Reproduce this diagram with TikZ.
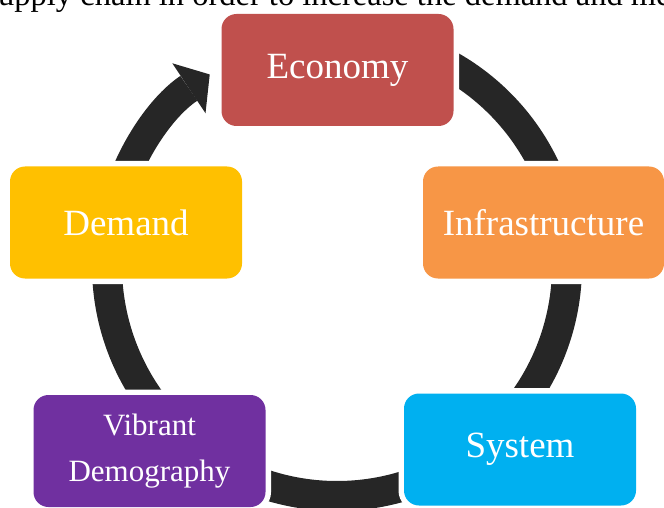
\documentclass[tikz,border=0pt]{standalone}
\usepackage{fontspec}
\setmainfont{Liberation Serif}
\usetikzlibrary{arrows.meta}
\definecolor{ringgray}{RGB}{38,38,38}
\definecolor{econfill}{RGB}{192,80,77}
\definecolor{infrafill}{RGB}{247,150,70}
\definecolor{sysfill}{RGB}{0,176,240}
\definecolor{vibfill}{RGB}{112,48,160}
\definecolor{demfill}{RGB}{255,192,0}
\def\Rr{230}
\tikzset{
  stage/.style={
    fill=#1, rounded corners=15pt,
    preaction={draw=white, line width=11pt},
    minimum width=232pt, minimum height=112pt,
    align=center, text=white, inner sep=0pt,
    font=\fontsize{37}{44}\selectfont,
  },
  stage/.default=ringgray,
  ring/.style={draw=ringgray, line width=30pt},
  ringtip/.style={-{Triangle[width=60pt, length=25pt, line width=0pt]}},
}

\begin{document}
\begin{tikzpicture}[x=1pt,y=-1pt]
  \useasboundingbox (0,0) rectangle (664,508);

  % running text from the page, cut by the top edge
  \node[anchor=base west, inner sep=0pt, font=\fontsize{32.5}{38}\selectfont] (intro) at (-2,6)
    {upply chain in order to increase the demand and me};

  % the cycle ring, one arc per step
  \coordinate (hub) at (337,266);
  \draw[ring] (hub) ++(270:\Rr) arc[start angle=270, end angle=348, radius=\Rr];
  \draw[ring] (hub) ++(348:\Rr) arc[start angle=348, end angle=405, radius=\Rr];
  \draw[ring] (hub) ++(45:\Rr) arc[start angle=45, end angle=135, radius=\Rr];
  \draw[ring] (hub) ++(135:\Rr) arc[start angle=135, end angle=192, radius=\Rr];
  \draw[ring, ringtip] (hub) ++(192:\Rr) arc[start angle=192, end angle=236.4, radius=\Rr];

  % stages
  \node[stage=econfill] (econ) at (337.5,70) {Economy};
  \node[stage=infrafill, minimum width=241pt] (infra) at (543.5,222.5) {Infrastructure};
  \node[stage=sysfill] (sys) at (520,449.5) {System};
  \node[stage=vibfill, font=\fontsize{31}{46}\selectfont] (vib) at (149.5,451) {Vibrant\\Demography};
  \node[stage=demfill] (dem) at (126,222.5) {Demand};
\end{tikzpicture}
\end{document}
